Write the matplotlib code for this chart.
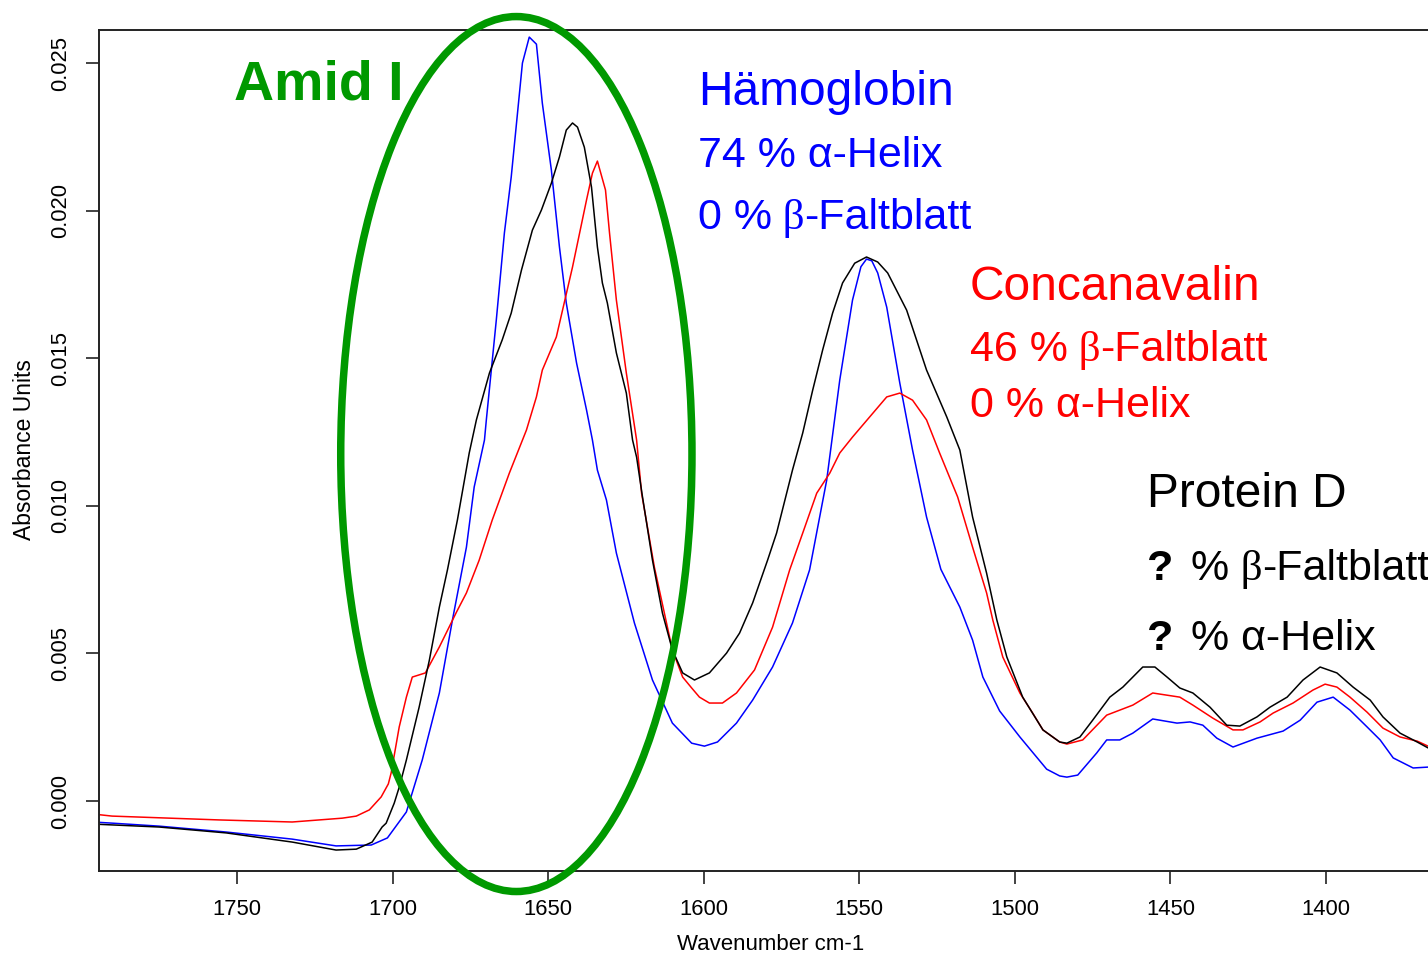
import matplotlib
matplotlib.use("Agg")
import matplotlib.pyplot as plt
from matplotlib.patches import Ellipse

plt.rcParams['font.family'] = ['Liberation Sans', 'DejaVu Sans']

# IR-Spektren (Amid I / Amid II Bereich), Wellenzahl in cm-1
hb_wn = [1796.3, 1790.0, 1775.1, 1753.5, 1732.3, 1718.2, 1706.9, 1701.7, 1695.6, 1690.5,
         1685.0, 1680.8, 1676.3, 1673.8, 1670.5, 1669.9, 1666.7, 1664.1, 1661.9, 1658.3,
         1656.1, 1653.8, 1651.9, 1649.0, 1646.4, 1644.2, 1640.9, 1637.7, 1635.8, 1634.2,
         1631.3, 1628.1, 1622.3, 1616.5, 1610.1, 1603.9, 1599.8, 1595.6, 1589.5, 1584.3,
         1577.9, 1571.5, 1566.0, 1560.5, 1556.3, 1552.2, 1549.5, 1547.7, 1546.0, 1544.1,
         1541.2, 1537.0, 1532.9, 1528.4, 1523.8, 1517.7, 1513.6, 1510.3, 1504.9, 1498.4,
         1489.8, 1485.6, 1483.3, 1479.8, 1473.7, 1470.5, 1466.3, 1462.1, 1455.7, 1447.9,
         1443.7, 1439.6, 1435.1, 1429.9, 1422.2, 1413.8, 1408.3, 1402.9, 1397.7, 1392.3,
         1386.8, 1382.6, 1378.4, 1372.0, 1367.2, 1362.0]
hb_abs = [-0.00071, -0.00075, -0.00085, -0.00105, -0.00129, -0.00152, -0.00149, -0.00125, -0.00037, 0.00139,
          0.00366, 0.00613, 0.00860, 0.01064, 0.01223, 0.01291, 0.01629, 0.01924, 0.02114, 0.02500,
          0.02588, 0.02564, 0.02364, 0.02138, 0.01877, 0.01687, 0.01484, 0.01325, 0.01223, 0.01121,
          0.01020, 0.00840, 0.00603, 0.00410, 0.00264, 0.00196, 0.00186, 0.00200, 0.00264, 0.00342,
          0.00454, 0.00603, 0.00783, 0.01087, 0.01426, 0.01697, 0.01810, 0.01836, 0.01830, 0.01789,
          0.01673, 0.01416, 0.01189, 0.00962, 0.00785, 0.00657, 0.00545, 0.00420, 0.00305, 0.00217,
          0.00108, 0.00085, 0.00081, 0.00088, 0.00163, 0.00207, 0.00207, 0.00230, 0.00278, 0.00264,
          0.00268, 0.00257, 0.00213, 0.00183, 0.00213, 0.00237, 0.00274, 0.00335, 0.00352, 0.00308,
          0.00251, 0.00207, 0.00146, 0.00112, 0.00115, 0.00112]

con_wn = [1796.3, 1790.2, 1755.8, 1732.3, 1716.2, 1711.7, 1707.5, 1703.7, 1701.4, 1700.5,
          1697.9, 1695.6, 1693.7, 1689.5, 1685.0, 1679.5, 1676.3, 1672.2, 1668.0, 1662.5,
          1657.0, 1653.8, 1651.9, 1647.4, 1642.2, 1637.7, 1635.8, 1634.2, 1631.6, 1630.3,
          1628.1, 1624.9, 1621.6, 1620.0, 1615.9, 1610.1, 1606.8, 1603.9, 1601.4, 1598.2,
          1594.0, 1589.5, 1583.7, 1577.9, 1572.4, 1568.2, 1563.7, 1559.5, 1556.3, 1552.2,
          1546.7, 1541.2, 1537.0, 1532.9, 1528.4, 1524.2, 1518.4, 1513.6, 1509.1, 1507.1,
          1503.9, 1498.4, 1494.3, 1491.0, 1485.6, 1483.3, 1478.2, 1470.5, 1462.1, 1455.7,
          1447.0, 1442.8, 1436.4, 1429.9, 1426.7, 1421.2, 1417.0, 1410.6, 1404.2, 1400.3,
          1396.5, 1392.3, 1386.8, 1381.7, 1376.2, 1370.7, 1367.2, 1362.0]
con_abs = [-0.00044, -0.00051, -0.00064, -0.00071, -0.00058, -0.00051, -0.00030, 0.00014, 0.00058, 0.00095,
           0.00251, 0.00352, 0.00420, 0.00434, 0.00522, 0.00640, 0.00705, 0.00816, 0.00952, 0.01111,
           0.01257, 0.01369, 0.01460, 0.01572, 0.01809, 0.02036, 0.02127, 0.02168, 0.02070, 0.01924,
           0.01697, 0.01450, 0.01223, 0.01043, 0.00793, 0.00512, 0.00420, 0.00383, 0.00352, 0.00332,
           0.00332, 0.00366, 0.00444, 0.00589, 0.00783, 0.00908, 0.01043, 0.01111, 0.01179, 0.01233,
           0.01301, 0.01369, 0.01382, 0.01358, 0.01291, 0.01179, 0.01030, 0.00860, 0.00705, 0.00613,
           0.00488, 0.00366, 0.00298, 0.00241, 0.00200, 0.00193, 0.00207, 0.00291, 0.00325, 0.00366,
           0.00352, 0.00325, 0.00281, 0.00241, 0.00241, 0.00268, 0.00298, 0.00332, 0.00376, 0.00396,
           0.00386, 0.00352, 0.00301, 0.00247, 0.00217, 0.00203, 0.00186, 0.00175]

pd_wn = [1796.3, 1775.1, 1753.5, 1732.3, 1718.2, 1711.7, 1706.6, 1703.4, 1702.1, 1699.5,
         1697.9, 1695.6, 1691.5, 1688.2, 1685.0, 1682.4, 1679.2, 1675.4, 1673.1, 1668.9,
         1664.8, 1661.9, 1658.6, 1655.1, 1652.2, 1649.0, 1646.4, 1644.2, 1642.2, 1640.6,
         1638.4, 1636.1, 1634.2, 1632.6, 1631.0, 1628.1, 1624.9, 1622.9, 1621.6, 1619.7,
         1616.5, 1613.3, 1610.1, 1606.8, 1603.0, 1598.2, 1592.7, 1588.5, 1584.3, 1579.5,
         1576.6, 1571.5, 1568.2, 1565.0, 1561.8, 1558.6, 1555.4, 1551.5, 1547.7, 1544.1,
         1540.9, 1534.8, 1528.4, 1521.9, 1517.7, 1513.6, 1509.1, 1505.8, 1502.6, 1497.5,
         1491.0, 1485.6, 1483.3, 1479.1, 1475.0, 1469.5, 1465.3, 1458.9, 1455.0, 1451.1,
         1447.0, 1442.8, 1437.3, 1431.9, 1427.7, 1422.2, 1418.0, 1412.5, 1407.4, 1401.9,
         1396.5, 1391.3, 1385.8, 1381.7, 1376.2, 1370.7, 1367.2, 1362.0]
pd_abs = [-0.00078, -0.00088, -0.00108, -0.00139, -0.00166, -0.00163, -0.00139, -0.00088, -0.00075, -0.00007,
          0.00047, 0.00139, 0.00318, 0.00478, 0.00657, 0.00783, 0.00952, 0.01179, 0.01291, 0.01450,
          0.01562, 0.01653, 0.01799, 0.01934, 0.02002, 0.02093, 0.02182, 0.02273, 0.02297, 0.02283,
          0.02215, 0.02080, 0.01877, 0.01755, 0.01687, 0.01518, 0.01382, 0.01223, 0.01165, 0.01030,
          0.00816, 0.00637, 0.00512, 0.00434, 0.00410, 0.00434, 0.00501, 0.00569, 0.00671, 0.00816,
          0.00908, 0.01121, 0.01247, 0.01392, 0.01528, 0.01653, 0.01755, 0.01822, 0.01843, 0.01826,
          0.01789, 0.01663, 0.01460, 0.01301, 0.01189, 0.00962, 0.00772, 0.00613, 0.00488, 0.00352,
          0.00241, 0.00200, 0.00196, 0.00217, 0.00274, 0.00352, 0.00386, 0.00454, 0.00454, 0.00420,
          0.00383, 0.00366, 0.00318, 0.00257, 0.00254, 0.00285, 0.00318, 0.00352, 0.00410, 0.00454,
          0.00434, 0.00386, 0.00342, 0.00285, 0.00230, 0.00200, 0.00180, 0.00165]

x_ticks = [1750, 1700, 1650, 1600, 1550, 1500, 1450, 1400]
y_ticks = [0.000, 0.005, 0.010, 0.015, 0.020, 0.025]

BREITE, HOEHE = 1428, 959
GRUEN = '#009900'

fig = plt.figure(figsize=(BREITE / 100, HOEHE / 100), dpi=100)
ax = fig.add_axes([99 / BREITE, 1 - 871 / HOEHE, (1443 - 99) / BREITE, (871 - 30) / HOEHE])

ax.plot(hb_wn, hb_abs, color='#0000ff', lw=1.1)
ax.plot(con_wn, con_abs, color='#ff0000', lw=1.1)
ax.plot(pd_wn, pd_abs, color='black', lw=1.1)

ax.set_xlim(1794.4, 1362.4)
ax.set_ylim(-0.00237, 0.02612)

ax.set_xticks(x_ticks)
ax.set_xticklabels([str(t) for t in x_ticks])
ax.set_yticks(y_ticks)
ax.set_yticklabels(['%.3f' % t for t in y_ticks])
ax.tick_params(direction='out', length=9.4, width=1.2, labelsize=15.8, pad=11, color='#222222')
for lab in ax.get_yticklabels():
    lab.set_rotation(90)
    lab.set_va('center')
for sp in ax.spines.values():
    sp.set_linewidth(1.4)
    sp.set_color('#222222')

# Ellipse um die Amid-I-Bande
oval = Ellipse((1660.25, 0.011755), width=112.9, height=0.02964, fill=False,
               edgecolor=GRUEN, lw=5.4, clip_on=False, zorder=5)
ax.add_patch(oval)

fig.text(25 / BREITE, 1 - 450 / HOEHE, 'Absorbance Units', rotation=90,
         ha='center', va='center', fontsize=16.5)
fig.text(771 / BREITE, 1 - 945 / HOEHE, 'Wavenumber cm-1', ha='center', va='center', fontsize=16)

renderer = fig.canvas.get_renderer()


def zeile(x, y, teile, farbe, groesse):
    """Schreibt eine Zeile aus mehreren Textstuecken mit eigener Schrift nebeneinander."""
    for text, extra, dx in teile:
        x += dx
        t = fig.text(x / BREITE, 1 - y / HOEHE, text, ha='left', va='baseline',
                     color=farbe, fontsize=groesse, **extra)
        x += t.get_window_extent(renderer).width


sans = {}
serif = {'family': ['Liberation Serif', 'DejaVu Serif']}
fett = {'fontweight': 'bold'}

zeile(234, 100, [('Amid I', fett, 0)], GRUEN, 40)

zeile(698, 105, [('Hämoglobin', sans, 0)], '#0000ff', 34.5)
zeile(698, 167, [('74 % α-Helix', sans, 0)], '#0000ff', 31)
zeile(698, 229, [('0 %', sans, 0), (' β', serif, 0), ('-Faltblatt', sans, 0)], '#0000ff', 31)

zeile(970, 300, [('Concanavalin', sans, 0)], '#ff0000', 34.5)
zeile(970, 361, [('46 %', sans, 0), (' β', serif, 0), ('-Faltblatt', sans, 0)], '#ff0000', 31)
zeile(970, 417, [('0 % α-Helix', sans, 0)], '#ff0000', 31)

zeile(1147, 507, [('Protein D', sans, 0)], 'black', 34.5)
zeile(1147, 580, [('?', fett, 0), (' %', sans, 6), (' β', serif, 0), ('-Faltblatt', sans, 0)], 'black', 31)
zeile(1147, 650, [('?', fett, 0), (' % α-Helix', sans, 6)], 'black', 31)

fig.savefig('out.png', dpi=100)
